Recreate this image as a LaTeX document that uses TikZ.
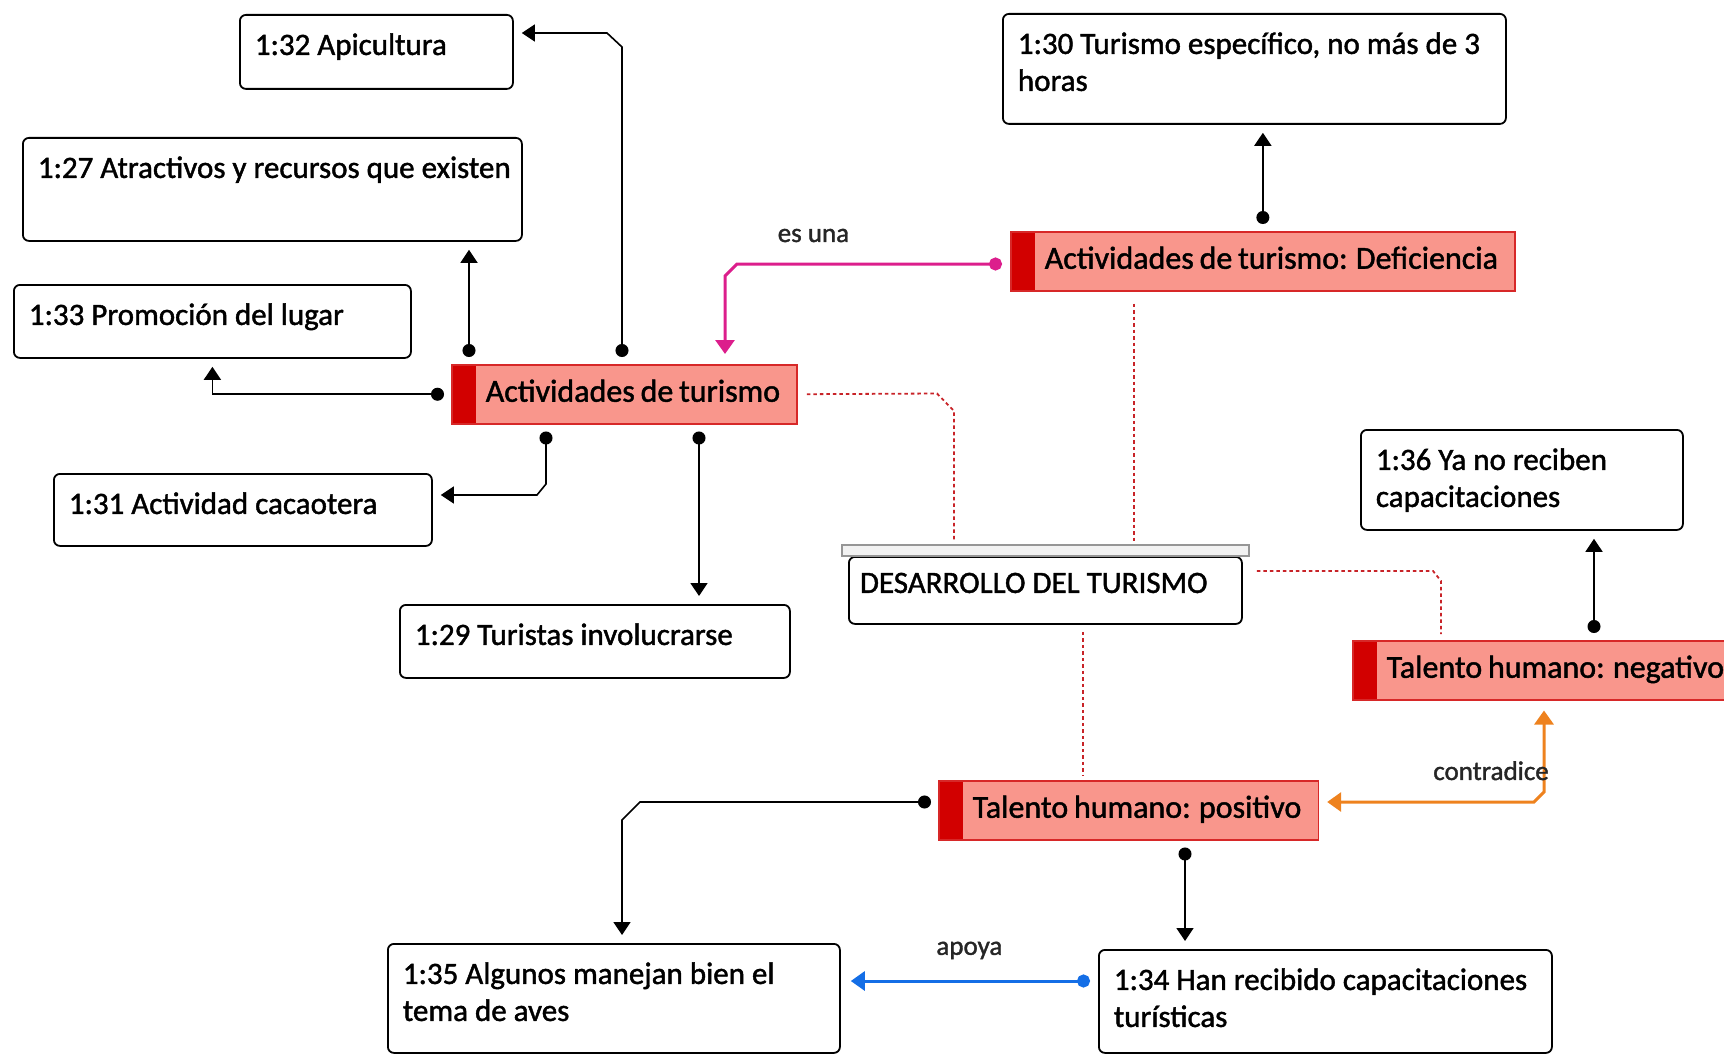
\documentclass[tikz,border=0pt]{standalone}
\usepackage{fontspec}
\setmainfont{Carlito}[FakeBold=1.4]
\usepackage{tikz}
\usetikzlibrary{arrows.meta}

\definecolor{codefill}{RGB}{249,150,140}
\definecolor{codeedge}{RGB}{215,40,40}
\definecolor{codebar}{RGB}{210,0,0}
\definecolor{dotred}{RGB}{200,35,40}
\definecolor{relpink}{RGB}{220,30,140}
\definecolor{relorange}{RGB}{238,130,30}
\definecolor{relblue}{RGB}{20,110,230}
\definecolor{barfill}{RGB}{242,242,242}
\definecolor{baredge}{RGB}{150,150,150}

\newcommand{\boxfont}{\fontsize{31}{37}\selectfont\hyphenpenalty=10000\relax}
\newcommand{\codefont}{\fontsize{32}{37}\selectfont\spaceskip=5.8pt plus 2pt minus 1pt\relax}
\newcommand{\tightspace}{\spaceskip=7pt plus 2pt minus 1pt\relax}

\tikzset{
  note/.style n args={2}{draw, line width=1.8pt, rounded corners=6pt, fill=white, anchor=north west,
    inner xsep=15pt, inner ysep=12pt, text height=28pt, text width=#1, text depth=#2,
    font=\boxfont, execute at begin node=\tightspace},
  code/.style={draw=codeedge, line width=1.5pt, fill=codefill, anchor=north west,
    inner xsep=17pt, inner ysep=15pt, text height=22pt, text depth=7pt,
    font=\codefont, execute at begin node={\hspace*{17pt}},
    path picture={\fill[codebar] (path picture bounding box.north west) rectangle ([xshift=24pt]path picture bounding box.south west);}},
  net/.style={draw, line width=1.8pt, rounded corners=6pt, fill=white, anchor=north west,
    inner xsep=11pt, inner ysep=8pt, text width=371pt, text height=28pt, text depth=23pt,
    font=\boxfont, execute at begin node=\tightspace},
  link/.style={line width=1.6pt, {Circle[length=13pt]}-{Triangle[width=17pt,length=13pt]},
    shorten <=7pt, shorten >=8pt},
  rel/.style={line width=3pt, draw=#1, {Circle[length=13pt]}-{Triangle[width=19pt,length=14pt]},
    shorten <=8pt, shorten >=10pt},
  dotlink/.style={draw=dotred, line width=1.8pt, dash pattern=on 3.5pt off 3pt},
  lbl/.style={font=\fontsize{27}{32}\selectfont, text=black!85}
}

\begin{document}
\begin{tikzpicture}[x=1pt,y=1pt]
\useasboundingbox (0,0) rectangle (1724,-1054);

\node[note={243pt}{22pt}] (n32) at (239,-14) {1:32 Apicultura};
\node[note={469pt}{51pt}] (n27) at (22,-137) {\mbox{1:27 Atractivos y recursos que existen}};
\node[note={367pt}{21pt}] (n33) at (13,-284) {1:33 Promoción del lugar};
\node[note={348pt}{20pt}] (n31) at (53,-473) {1:31 Actividad cacaotera};
\node[note={360pt}{21pt}] (n29) at (399,-604) {1:29 Turistas involucrarse};
\node[note={473pt}{58pt}] (n30) at (1002,-13) {\mbox{1:30 Turismo específico, no más de 3}\\horas};
\node[note={292pt}{48pt}] (n36) at (1360,-429) {1:36 Ya no reciben\\capacitaciones};
\node[note={422pt}{57pt}] (n35) at (387,-943) {1:35 Algunos manejan bien el\\tema de aves};
\node[note={423pt}{51pt}] (n34) at (1098,-949) {\mbox{1:34 Han recibido capacitaciones}\\turísticas};

\node[code] (A) at (451,-364) {Actividades de turismo};
\node[code] (B) at (1010,-231) {Actividades de turismo: Deficiencia};
\node[code] (C) at (1352,-640) {Talento humano: negativo};
\node[code] (D) at (938,-780) {Talento humano: positivo};

\node[net] (dev) at (848,-556) {DESARROLLO DEL TURISMO};
\draw[line width=1.5pt, draw=baredge, fill=barfill] ([xshift=-6pt]dev.north west) rectangle ([xshift=6pt,yshift=11pt]dev.north east);

\draw[dotlink, shorten <=9pt, shorten >=15pt] (A.east) -- (937,-393.5) -- (954,-411) -- (dev.north -| 954,0);
\draw[dotlink, shorten <=12pt, shorten >=15pt] (B.south -| 1134,0) -- (dev.north -| 1134,0);
\draw[dotlink, shorten <=14pt, shorten >=6pt] (dev.east |- 0,-571) -- (1433,-571) -- (1441,-581) -- (C.north -| 1441,0);
\draw[dotlink, shorten <=7pt, shorten >=5pt] (dev.south -| 1083,0) -- (D.north -| 1083,0);

\draw[link] (A.north -| 622,0) -- (622,-47) -- (607,-33) -- (n32.east |- 0,-33);
\draw[link] (A.north -| 469,0) -- (n27.south -| 469,0);
\draw[link] (A.west) -| (n33.south);
\draw[link] (A.south -| 546,0) -- (546,-484) -- (537,-495) -- (n31.east |- 0,-495);
\draw[link] (A.south -| 699,0) -- (n29.north -| 699,0);
\draw[link] (B.north) -- (n30.south -| B.north);
\draw[link] (C.north -| 1594,0) -- (n36.south -| 1594,0);
\draw[link] (D.west |- 0,-802) -- (640,-802) -- (622,-820) -- (n35.north -| 622,0);
\draw[link] (D.south -| 1185,0) -- (n34.north -| 1185,0);

\draw[rel=relpink] (B.west |- 0,-264) -- node[lbl, above=17pt, pos=0.72] (esuna) {es una} (737,-264) -- (725,-276) -- (A.north -| 725,0);
\draw[rel=relorange, {Triangle[width=19pt,length=14pt]}-{Triangle[width=19pt,length=14pt]}] (D.east |- 0,-802) -- node[lbl, above=17pt, pos=0.8] (contra) {contradice} (1534,-802) -- (1544,-792) -- (C.south -| 1544,0);
\draw[rel=relblue] (n34.west |- 0,-981) -- node[lbl, above=17pt, pos=0.5] (apoya) {apoya} (n35.east |- 0,-981);
\end{tikzpicture}
\end{document}
